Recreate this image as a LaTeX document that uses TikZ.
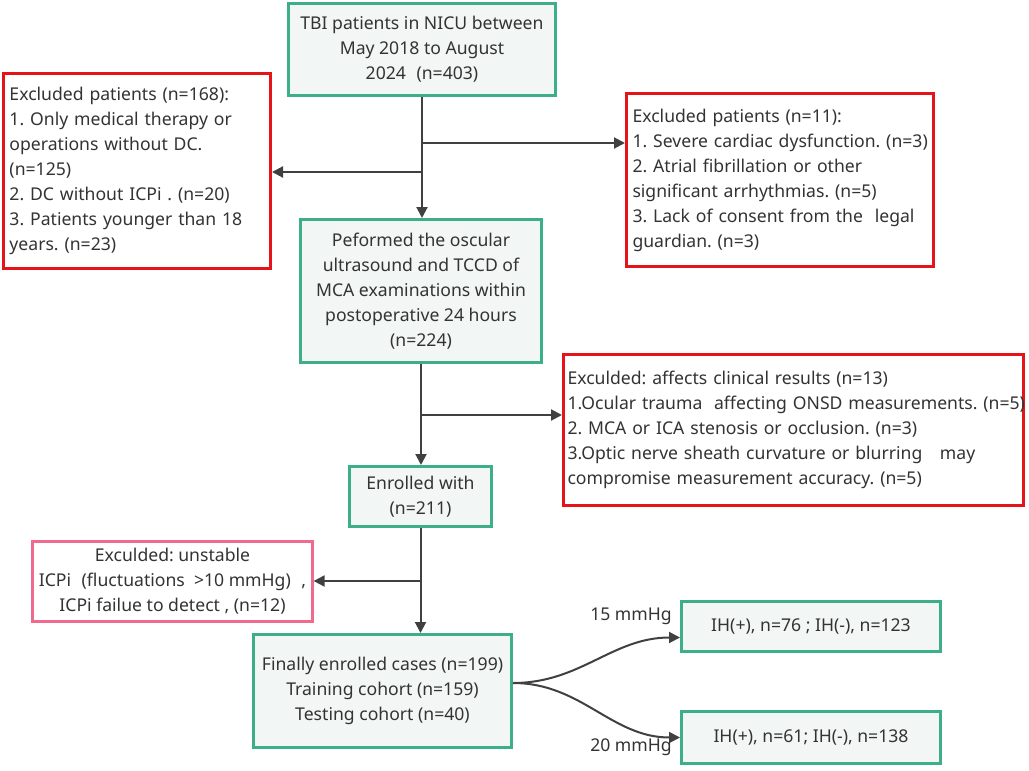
\documentclass[tikz,border=0pt]{standalone}
\usepackage{fontspec}
\setmainfont{Noto Sans}
\usetikzlibrary{arrows.meta}
\definecolor{boxgreen}{HTML}{3CAE88}
\definecolor{boxfill}{HTML}{F2F6F5}
\definecolor{boxred}{HTML}{E61419}
\definecolor{boxpink}{HTML}{EE6B8E}
\definecolor{linegray}{HTML}{404040}
\definecolor{textgray}{HTML}{333333}
\frenchspacing

\begin{document}
\begin{tikzpicture}[x=0.5pt,y=-0.5pt,
  font={\fontsize{8.8}{12.5}\selectfont},
  every node/.style={text=textgray},
  stage/.style={draw=boxgreen,line width=1.5pt,fill=boxfill,align=center},
  excl/.style={draw=boxred,line width=1.5pt,fill=white,align=left,inner xsep=3pt},
  arr/.style={draw=linegray,line width=1pt,-{Triangle[length=5.5pt,width=5.5pt]}}]
\useasboundingbox (0,0) rectangle (1029,771);

% main column
\node[stage,minimum width=133.5pt,minimum height=46pt] (tbi) at (422,49.5)
  {TBI patients in NICU between\\May 2018 to August\\2024\hspace{0.6em}(n=403)};
\node[stage,minimum width=120.5pt,minimum height=71.5pt] (scan) at (421,291)
  {Peformed the oscular\\ultrasound and TCCD of\\MCA examinations within\\postoperative 24 hours\\(n=224)};
\node[stage,minimum width=71pt,minimum height=30pt] (enrol) at (420.5,496.5)
  {Enrolled with\\(n=211)};
\node[stage,minimum width=129pt,minimum height=56.5pt] (final) at (382.5,691)
  {Finally enrolled cases (n=199)\\Training cohort (n=159)\\Testing cohort (n=40)};

% exclusions
\node[excl,minimum width=133.5pt,minimum height=97.5pt,text width=127.5pt] (exclA) at (137,171)
  {Excluded patients (n=168):\\1. Only medical therapy or\\operations without DC.\\(n=125)\\2. DC without ICPi . (n=20)\\3. Patients younger than 18\\years. (n=23)};
\node[excl,minimum width=153.5pt,minimum height=86.5pt,text width=147.5pt] (exclB) at (780,180)
  {Excluded patients (n=11):\\\mbox{1. Severe cardiac dysfunction. (n=3)}\\2. Atrial fibrillation or other\\significant arrhythmias. (n=5)\\3. Lack of consent from the\ \ legal\\guardian. (n=3)};
\node[excl,minimum width=230pt,minimum height=75.5pt,text width=226pt,inner xsep=2pt] (exclC) at (793.5,430)
  {Exculded: affects clinical results (n=13)\\\mbox{1.Ocular trauma\ \ affecting ONSD measurements. (n=5)}\\2. MCA or ICA stenosis or occlusion. (n=3)\\3.Optic nerve sheath curvature or blurring\ \ \ may\\compromise measurement accuracy. (n=5)};
\node[excl,draw=boxpink,align=center,minimum width=139pt,minimum height=38pt] (exclD) at (172.5,581.5)
  {Exculded: unstable\\ICPi\hspace{0.6em}(fluctuations\ \ >10 mmHg)\hspace{0.6em},\\ICPi failue to detect , (n=12)};

% outcome boxes
\node[stage,minimum width=129.5pt,minimum height=25pt] (ih15) at (811,626.5)
  {IH(+), n=76 ; IH(-), n=123};
\node[stage,minimum width=129.5pt,minimum height=26pt] (ih20) at (811,737.5)
  {IH(+), n=61; IH(-), n=138};
\node (lab15) at (631,616) {15 mmHg};
\node (lab20) at (631,747) {20 mmHg};

% connectors
\coordinate (toB) at (421,143);
\coordinate (toA) at (421,172);
\coordinate (toC) at (421,415);
\coordinate (toD) at (421,581);
\draw[arr] (tbi.south) -- (tbi.south |- scan.north);
\draw[arr] (toB) -- (toB -| exclB.west);
\draw[arr] (toA) -- (toA -| exclA.east);
\draw[arr] (scan.south) -- (scan.south |- enrol.north);
\draw[arr] (toC) -- (toC -| exclC.west);
\draw[arr] (enrol.south) -- (enrol.south |- final.north);
\draw[arr] (toD) -- (toD -| exclD.east);

\coordinate (split) at ([yshift=4pt]final.east);
\draw[arr] (split) to[out=0,in=180] ([yshift=-5.5pt]ih15.west);
\draw[arr] (split) to[out=0,in=180] (ih20.west);
\end{tikzpicture}
\end{document}
